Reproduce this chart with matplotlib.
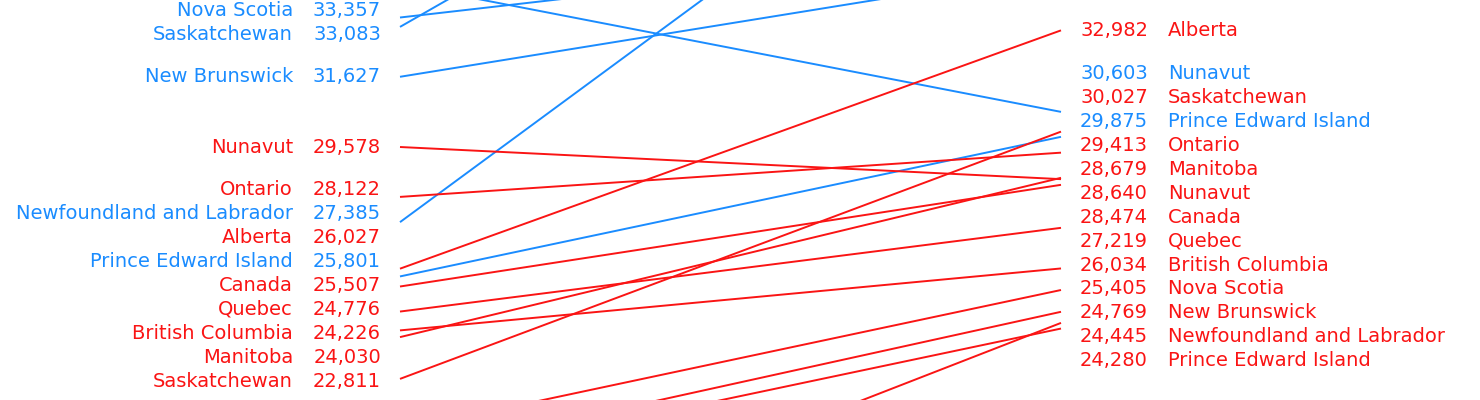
import numpy as np
from matplotlib import pyplot as plt

# blue series (line goes from left column to right column)
blue_names = ['Nunavut', 'Nova Scotia', 'Saskatchewan', 'New Brunswick',
              'Newfoundland and Labrador', 'Prince Edward Island']
blue_start = [34337, 33357, 33083, 31627, 27385, 25801]
blue_end = [30603, 35563, 44100, 34746, 41577, 29875]

# red series
red_names = ['Alberta', 'Saskatchewan', 'Ontario', 'Manitoba', 'Nunavut',
             'Canada', 'Quebec', 'British Columbia', 'Nova Scotia',
             'New Brunswick', 'Newfoundland and Labrador',
             'Prince Edward Island']
red_start = [26027, 22811, 28122, 24030, 29578, 25507, 24776, 24226,
             21308, 20526, 16943, 20217]
red_end = [32982, 30027, 29413, 28679, 28640, 28474, 27219, 26034,
           25405, 24769, 24445, 24280]

BLUE = '#1a8cff'
RED = '#fa1414'
x_left, x_right = 400, 1061
y_lo, y_hi = 22195, 33868
label_gap = 697       # min distance between two labels, in value units
label_floor = 19960   # labels can't go lower than the bottom of the chart


def dodge(values, gap, floor=None):
    """spread labels so they don't overlap, keeping clusters centred"""
    order = list(np.argsort(values)[::-1])
    clusters = []
    for i in order:
        clusters.append([[i], values[i]])
        while True:
            items = clusters[-1][0]
            top = np.mean([values[j] + k*gap for k, j in enumerate(items)])
            if floor is not None:
                top = max(top, floor + (len(items)-1)*gap)
            clusters[-1][1] = top
            if len(clusters) > 1:
                prev_items, prev_top = clusters[-2]
                prev_bottom = prev_top - (len(prev_items)-1)*gap
                if prev_bottom - gap < top:
                    prev_items.extend(items)
                    clusters.pop()
                    continue
            break
    pos = np.zeros(len(values))
    for items, top in clusters:
        for k, j in enumerate(items):
            pos[j] = top - k*gap
    return pos


fig = plt.figure(figsize=(14.8, 4), dpi=100)
ax = fig.add_axes([0, 0, 1, 1])
ax.set_xlim(0, 1480)
ax.set_ylim(y_lo, y_hi)
ax.axis('off')

for start, end, c in [(blue_start, blue_end, BLUE), (red_start, red_end, RED)]:
    for a, b in zip(start, end):
        ax.plot([x_left, x_right], [a, b], color=c, lw=1.4,
                solid_capstyle='butt')

names = blue_names + red_names
colors = [BLUE]*len(blue_names) + [RED]*len(red_names)
left_vals = np.array(blue_start + red_start, dtype=float)
right_vals = np.array(blue_end + red_end, dtype=float)
left_pos = dodge(left_vals, label_gap, label_floor)
right_pos = dodge(right_vals, label_gap, label_floor)

# only the labels that fall inside the visible window
font = dict(family='DejaVu Sans', size=14, va='center')
for name, c, v, y in zip(names, colors, left_vals, left_pos):
    if not (y_lo < y < y_hi):
        continue
    ax.text(x_left - 107, y, name, color=c, ha='right', **font)
    ax.text(x_left - 19, y, '{:,.0f}'.format(v), color=c, ha='right', **font)
for name, c, v, y in zip(names, colors, right_vals, right_pos):
    if not (y_lo < y < y_hi):
        continue
    ax.text(x_right + 19, y, '{:,.0f}'.format(v), color=c, ha='left', **font)
    ax.text(x_right + 107, y, name, color=c, ha='left', **font)

plt.savefig('out.png', dpi=100)
